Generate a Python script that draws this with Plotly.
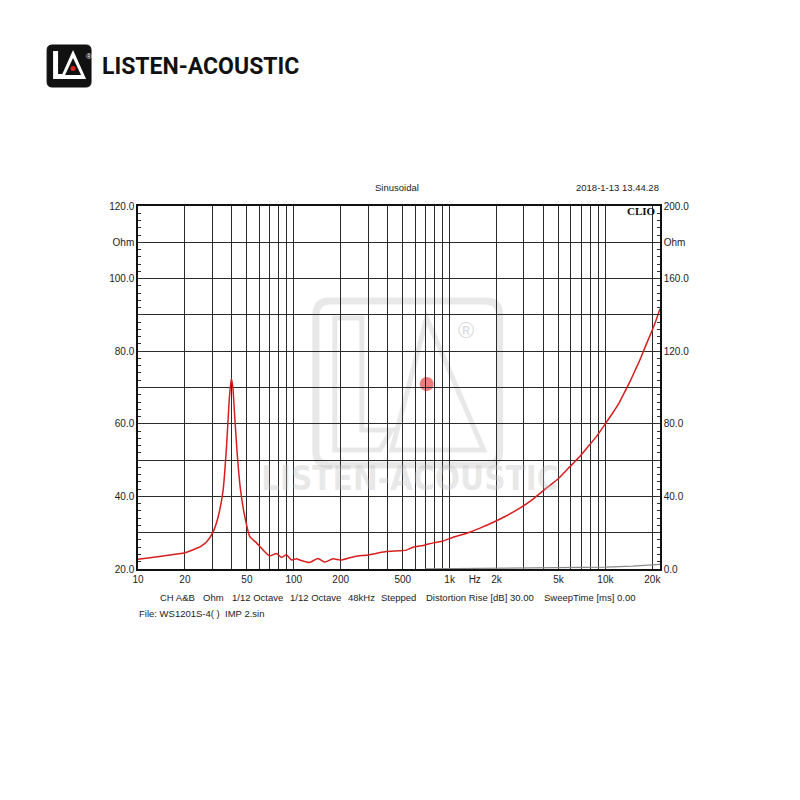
import plotly.graph_objects as go
import math

# ---------------- data ----------------
imp_freq = [10, 10.3, 14.5, 20, 23.8, 25.6, 27.6, 30.4, 32.7, 35.2, 37.0, 38.5, 39.7,
            40.6, 41.9, 43.3, 45.5, 48.5, 52.2, 57.6, 63.6, 70, 77.5, 83.3, 89.6, 96.6,
            104, 109, 126, 143, 158, 178, 202, 228, 258, 291, 337, 392, 476, 527, 582,
            679, 783, 906, 1048, 1276, 1554, 1892, 2303, 2805, 3416, 4160, 4960, 5800,
            6820, 7700, 8720, 10020, 11100, 12330, 13300, 14370, 15500, 16720, 18000,
            19450, 21000, 22400]
imp_ohm = [22.7, 22.75, 23.6, 24.5, 25.7, 26.4, 27.5, 30.3, 34.4, 41.8, 53.7, 66.6, 72.5,
           70.2, 61.0, 51.9, 41.8, 34.4, 28.9, 27.2, 25.2, 23.6, 24.3, 23.2, 23.9, 22.5,
           22.8, 22.5, 21.8, 22.9, 21.9, 22.8, 22.5, 23.1, 23.6, 23.8, 24.3, 24.8, 25.0,
           25.2, 26.0, 26.5, 27.2, 27.7, 28.7, 29.8, 31.2, 32.8, 34.6, 36.7, 39.2, 42.2,
           44.8, 47.8, 50.9, 53.6, 56.4, 60.1, 62.9, 66.0, 68.8, 71.6, 74.7, 77.8, 81.2,
           84.6, 88.2, 91.7]

aux_freq = [700, 1000, 2000, 5000, 10000, 15000, 20000, 22400]
aux_val = [0.1, 0.2, 0.3, 0.5, 1.0, 1.6, 2.2, 2.6]

x_tick_vals = [10, 20, 50, 100, 200, 500, 1000, 1450, 2000, 5000, 10000, 20000]
x_tick_text = ["10", "20", "50", "100", "200", "500", "1k", "Hz", "2k", "5k", "10k", "20k"]
x_grid_vals = [20, 30, 40, 50, 60, 70, 80, 90, 100, 200, 300, 400, 500, 600, 700, 800, 900,
               1000, 2000, 3000, 4000, 5000, 6000, 7000, 8000, 9000, 10000, 20000]

y_tick_vals = [20, 30, 40, 50, 60, 70, 80, 90, 100, 110, 120]
y_tick_text = ["20.0", "", "40.0", "", "60.0", "", "80.0", "", "100.0", "Ohm", "120.0"]
y2_tick_vals = [0, 40, 80, 120, 160, 180, 200]
y2_tick_text = ["0.0", "40.0", "80.0", "120.0", "160.0", "Ohm", "200.0"]

bottom_items = [("CH A&B", 158), ("Ohm", 201), ("1/12 Octave", 230), ("1/12 Octave", 288),
                ("48kHz", 346), ("Stepped", 379), ("Distortion Rise [dB] 30.00", 424),
                ("SweepTime [ms] 0.00", 542)]

# ---------------- layout helpers (reference page pixels) ----------------
OFF = 8  # page body margin
L, R, T, B = 138, 660.5, 206, 569
W = R - L
H = B - T


def px(x):
    return (x - L) / W


def py(y):
    return (B - y) / H


FONT = "Liberation Sans, Arial, sans-serif"
FS = 9.5

fig = go.Figure()
fig.add_trace(go.Scatter(x=imp_freq, y=imp_ohm, mode="lines",
                         line=dict(color="#d81e1e", width=1.5, shape="spline", smoothing=0.5),
                         showlegend=False))
fig.add_trace(go.Scatter(x=aux_freq, y=aux_val, mode="lines", yaxis="y2",
                         line=dict(color="#8a8a8a", width=1.2), showlegend=False))

fig.update_layout(
    width=800, height=800, autosize=False,
    margin=dict(l=L - OFF, r=800 - (R - OFF), t=T - OFF, b=800 - (B - OFF), pad=0),
    paper_bgcolor="white", plot_bgcolor="white",
    font=dict(family=FONT, size=FS, color="#222"),
    xaxis=dict(type="log", range=[1, math.log10(22400)],
               tickmode="array", tickvals=x_tick_vals, ticktext=x_tick_text,
               showgrid=False, ticks="", zeroline=False,
               showline=True, linecolor="#111", linewidth=1.5, mirror=True,
               tickfont=dict(size=FS + 0.5, color="#222"),
               minor=dict(tickmode="array", tickvals=x_grid_vals, showgrid=True,
                          gridcolor="#2a2a2a", gridwidth=1.2, ticks="")),
    yaxis=dict(range=[20, 120], tickmode="array", tickvals=y_tick_vals, ticktext=y_tick_text,
               showgrid=True, gridcolor="#2a2a2a", gridwidth=1.2, zeroline=False,
               ticks="inside", ticklen=5, tickcolor="#333",
               showline=True, linecolor="#111", linewidth=1.5,
               tickfont=dict(size=FS + 0.5, color="#222"),
               minor=dict(dtick=2, ticks="inside", ticklen=3, tickcolor="#333", showgrid=False)),
    yaxis2=dict(range=[0, 200], overlaying="y", side="right",
                tickmode="array", tickvals=y2_tick_vals, ticktext=y2_tick_text,
                showgrid=False, zeroline=False,
                ticks="inside", ticklen=5, tickcolor="#333",
                showline=True, linecolor="#111", linewidth=1.5,
                tickfont=dict(size=FS + 0.5, color="#222"),
                minor=dict(dtick=4, ticks="inside", ticklen=3, tickcolor="#333", showgrid=False)),
)

shapes = []
annos = []

# ---- watermark (faint) ----
wm = "rgba(190,190,190,0.35)"
x0, x1, y0, y1, rr = 316, 500, 301, 465, 14
path = (f"M {px(x0+rr)},{py(y0)} L {px(x1-rr)},{py(y0)} Q {px(x1)},{py(y0)} {px(x1)},{py(y0+rr)} "
        f"L {px(x1)},{py(y1-rr)} Q {px(x1)},{py(y1)} {px(x1-rr)},{py(y1)} "
        f"L {px(x0+rr)},{py(y1)} Q {px(x0)},{py(y1)} {px(x0)},{py(y1-rr)} "
        f"L {px(x0)},{py(y0+rr)} Q {px(x0)},{py(y0)} {px(x0+rr)},{py(y0)} Z")
shapes.append(dict(type="path", xref="paper", yref="paper", path=path,
                   line=dict(color=wm, width=7), layer="below"))
lpath = (f"M {px(335)},{py(318)} L {px(362)},{py(318)} L {px(362)},{py(430)} L {px(392)},{py(430)} "
         f"L {px(380)},{py(450)} L {px(335)},{py(450)} Z")
shapes.append(dict(type="path", xref="paper", yref="paper", path=lpath,
                   line=dict(color=wm, width=5), layer="below"))
apath = (f"M {px(427)},{py(318)} L {px(484)},{py(450)} L {px(392)},{py(450)} Z")
shapes.append(dict(type="path", xref="paper", yref="paper", path=apath,
                   line=dict(color=wm, width=5), layer="below"))
shapes.append(dict(type="circle", xref="paper", yref="paper",
                   x0=px(420), x1=px(434), y0=py(391), y1=py(377),
                   fillcolor="rgba(230,80,80,0.75)", line=dict(width=0), layer="below"))
annos.append(dict(text="®", x=px(466), y=py(330), xref="paper", yref="paper",
                  showarrow=False, font=dict(size=22, color="rgba(180,180,180,0.5)")))
annos.append(dict(text="<b>LISTEN-ACOUSTIC</b>", x=px(410), y=py(500), xref="paper", yref="paper",
                  showarrow=False,
                  font=dict(size=33, family="DejaVu Sans Condensed, Liberation Sans Narrow, sans-serif",
                            color="rgba(190,190,190,0.35)")))

# ---- header logo ----
x0, x1, y0, y1, rr = 47, 91, 45, 87, 5
lp = (f"M {px(x0+rr)},{py(y0)} L {px(x1-rr)},{py(y0)} Q {px(x1)},{py(y0)} {px(x1)},{py(y0+rr)} "
      f"L {px(x1)},{py(y1-rr)} Q {px(x1)},{py(y1)} {px(x1-rr)},{py(y1)} "
      f"L {px(x0+rr)},{py(y1)} Q {px(x0)},{py(y1)} {px(x0)},{py(y1-rr)} "
      f"L {px(x0)},{py(y0+rr)} Q {px(x0)},{py(y0)} {px(x0+rr)},{py(y0)} Z")
shapes.append(dict(type="path", xref="paper", yref="paper", path=lp,
                   fillcolor="#111", line=dict(color="#111", width=1)))
shapes.append(dict(type="path", xref="paper", yref="paper",
                   path=(f"M {px(53)},{py(51)} L {px(58)},{py(51)} L {px(58)},{py(74)} L {px(64)},{py(74)} "
                         f"L {px(62)},{py(79)} L {px(53)},{py(79)} Z"),
                   fillcolor="white", line=dict(width=0)))
shapes.append(dict(type="path", xref="paper", yref="paper",
                   path=f"M {px(73)},{py(50)} L {px(86)},{py(79)} L {px(60)},{py(79)} Z",
                   fillcolor="white", line=dict(width=0)))
shapes.append(dict(type="path", xref="paper", yref="paper",
                   path=f"M {px(73)},{py(58)} L {px(81)},{py(75)} L {px(65)},{py(75)} Z",
                   fillcolor="#111", line=dict(width=0)))
shapes.append(dict(type="circle", xref="paper", yref="paper",
                   x0=px(70.5), x1=px(75.5), y0=py(71), y1=py(66),
                   fillcolor="#e02020", line=dict(width=0)))
annos.append(dict(text="®", x=px(84), y=py(50), xref="paper", yref="paper", showarrow=False,
                  font=dict(size=8, color="white")))
annos.append(dict(text="<b>LISTEN-ACOUSTIC</b>", x=px(100), y=py(66), xref="paper", yref="paper",
                  xanchor="left", yanchor="middle", showarrow=False,
                  font=dict(size=23, family="Roboto, Noto Sans, sans-serif", color="#111")))

# ---- chart header texts ----
annos.append(dict(text="Sinusoidal", x=px(397), y=py(188), xref="paper", yref="paper",
                  xanchor="center", yanchor="middle", showarrow=False, font=dict(size=FS)))
annos.append(dict(text="2018-1-13 13.44.28", x=px(662), y=py(188), xref="paper", yref="paper",
                  xanchor="right", yanchor="middle", showarrow=False, font=dict(size=FS)))
annos.append(dict(text="<b>CLIO</b>", x=px(658), y=py(211), xref="paper", yref="paper",
                  xanchor="right", yanchor="middle", showarrow=False,
                  font=dict(size=11, family="Liberation Serif, Times New Roman, serif", color="#111")))

# ---- footer texts ----
for txt, xpos in bottom_items:
    annos.append(dict(text=txt, x=px(xpos), y=py(597), xref="paper", yref="paper",
                      xanchor="left", yanchor="middle", showarrow=False, font=dict(size=FS)))
annos.append(dict(text="File: WS1201S-4( )  IMP 2.sin", x=px(137), y=py(613), xref="paper",
                  yref="paper", xanchor="left", yanchor="middle", showarrow=False,
                  font=dict(size=FS)))

fig.update_layout(shapes=shapes, annotations=annos)
fig.write_html("out.html")
